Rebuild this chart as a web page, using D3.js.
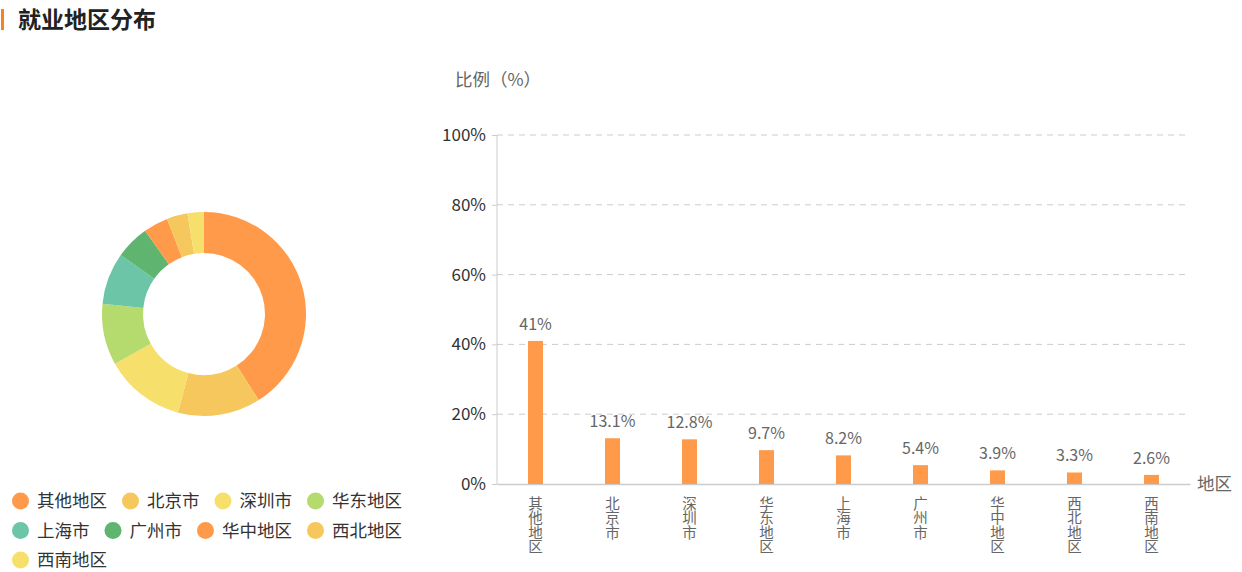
<!DOCTYPE html>
<html><head><meta charset="utf-8">
<script src="https://cdn.jsdelivr.net/npm/d3@7"></script>
<style>
body{margin:0;background:#fff;font-family:"Noto Sans CJK SC","Noto Sans",sans-serif;}
svg{display:block;}
</style></head><body>
<svg id="c" width="1242" height="572"></svg>
<script>
const title = "就业地区分布";
const categories = ["其他地区","北京市","深圳市","华东地区","上海市","广州市","华中地区","西北地区","西南地区"];
const values = [41, 13.1, 12.8, 9.7, 8.2, 5.4, 3.9, 3.3, 2.6];
const valueLabels = ["41%","13.1%","12.8%","9.7%","8.2%","5.4%","3.9%","3.3%","2.6%"];
const yTicks = [0, 20, 40, 60, 80, 100];
const palette = ["#FF9A4B","#F5C75C","#F7DF6C","#B5DA6E","#6DC5A7","#5FB46F"];
const yTitle = "比例（%）";
const xTitle = "地区";

const svg = d3.select("#c");
const font = '"Noto Sans CJK SC","Noto Sans",sans-serif';

// title
svg.append("rect").attr("x",1).attr("y",9).attr("width",3).attr("height",21).attr("fill","#F7821E");
svg.append("text").attr("x",18).attr("y",28).attr("font-size",23).attr("font-weight","bold")
  .attr("fill","#222").attr("font-family",font).text(title);

// donut
const color = (i)=>palette[i % palette.length];
const pie = d3.pie().sort(null).value(d=>d)(values);
const arc = d3.arc().innerRadius(61).outerRadius(102);
const g = svg.append("g").attr("transform","translate(204,314)");
g.selectAll("path").data(pie).join("path").attr("d",arc).attr("fill",(d,i)=>color(i));

// legend (flow layout)
const lg = svg.append("g");
let lx = 12, ly = 501;
const maxW = 405;
categories.forEach((c,i)=>{
  const tmp = lg.append("text").attr("font-size",17.5).attr("font-family",font).text(c);
  const tw = tmp.node().getComputedTextLength();
  const w = 25 + tw;
  if (lx + w > maxW) { lx = 12; ly += 29.5; }
  lg.append("circle").attr("cx",lx+8.5).attr("cy",ly).attr("r",8.5).attr("fill",color(i));
  tmp.attr("x",lx+25).attr("y",ly).attr("dy","0.35em").attr("fill","#333");
  lx += w + 15;
});

// bar chart
const x = d3.scaleBand().domain(categories).range([497,1190]);
const y = d3.scaleLinear().domain([0,100]).range([484,135]);

// grid
svg.append("g").selectAll("line").data(yTicks.filter(t=>t>0)).join("line")
  .attr("x1",497).attr("x2",1190).attr("y1",d=>y(d)).attr("y2",d=>y(d))
  .attr("stroke","#ccc").attr("stroke-dasharray","6,5");

// y axis
const ya = svg.append("g").attr("transform","translate(497,0)")
  .call(d3.axisLeft(y).tickValues(yTicks).tickFormat(d=>d+"%").tickSize(5).tickPadding(6));
ya.select(".domain").attr("stroke","#ccc").attr("d","M0,135V484");
ya.selectAll(".tick line").attr("stroke","#ccc");
ya.selectAll("text").attr("font-size",17).attr("font-family",font).attr("fill","#333");

// x axis
const xa = svg.append("g").attr("transform","translate(0,484)")
  .call(d3.axisBottom(x).tickSize(0).tickFormat(""));
xa.select(".domain").attr("stroke","#ccc").attr("stroke-width",1.5);
xa.selectAll(".tick").append("text")
  .attr("x",0).attr("y",12)
  .style("writing-mode","vertical-rl")
  .attr("text-anchor","start")
  .attr("fill","#666").attr("font-size",14.5).attr("font-family",font)
  .text(d=>d);

// bars
const bw = 15;
svg.append("g").selectAll("rect").data(values).join("rect")
  .attr("x",(d,i)=>x(categories[i]) + x.bandwidth()/2 - bw/2)
  .attr("y",d=>y(d)).attr("width",bw).attr("height",d=>y(0)-y(d))
  .attr("fill","#FF9A4B");

svg.append("g").selectAll("text").data(values).join("text")
  .attr("x",(d,i)=>x(categories[i]) + x.bandwidth()/2)
  .attr("y",d=>y(d)-11).attr("text-anchor","middle")
  .attr("font-size",16).attr("font-family",font).attr("fill","#666")
  .text((d,i)=>valueLabels[i]);

// axis titles
svg.append("text").attr("x",455).attr("y",86).attr("font-size",17.5).attr("font-family",font)
  .attr("fill","#666").text(yTitle);
svg.append("text").attr("x",1197).attr("y",484).attr("dy","0.35em").attr("font-size",17.5)
  .attr("font-family",font).attr("fill","#666").text(xTitle);
</script>
</body></html>
